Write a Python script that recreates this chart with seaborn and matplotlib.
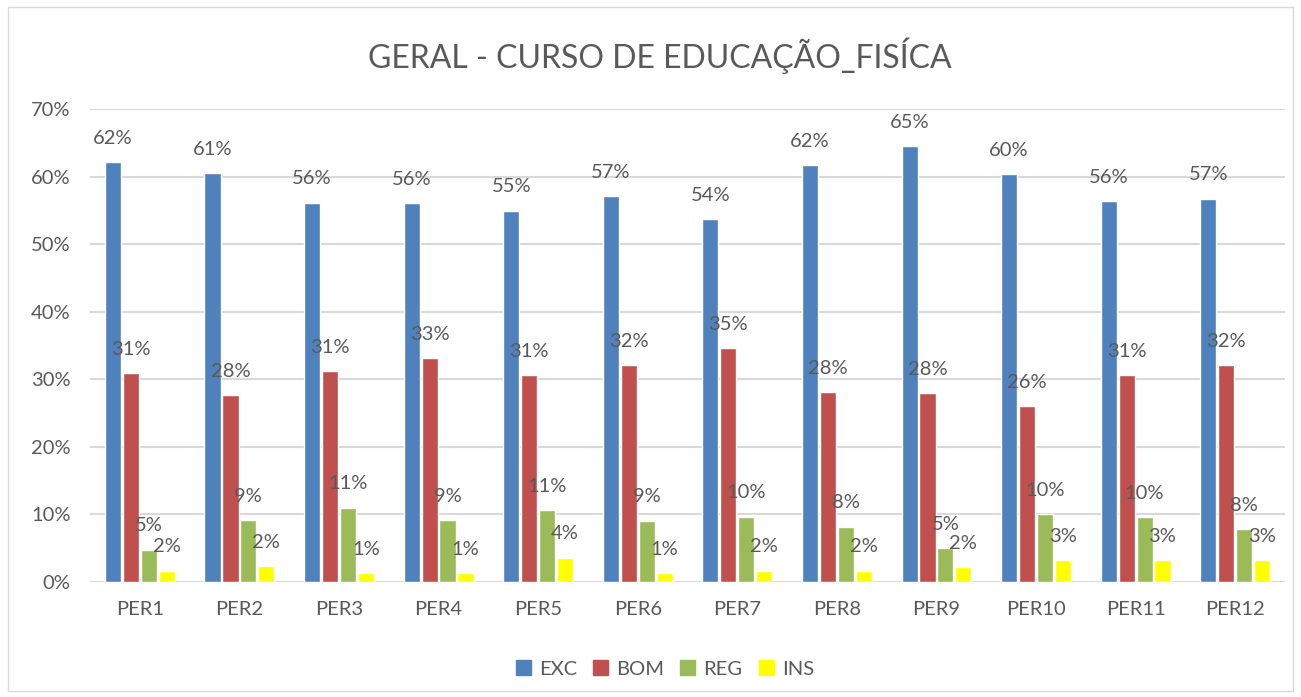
import pandas as pd
import matplotlib.pyplot as plt
import seaborn as sns
from matplotlib.patches import Rectangle

# values (fractions)
periods = ["PER1", "PER2", "PER3", "PER4", "PER5", "PER6",
           "PER7", "PER8", "PER9", "PER10", "PER11", "PER12"]
exc = [0.622, 0.606, 0.562, 0.561, 0.550, 0.572, 0.537, 0.617, 0.646, 0.604, 0.564, 0.568]
bom = [0.309, 0.277, 0.312, 0.332, 0.306, 0.321, 0.346, 0.281, 0.280, 0.261, 0.306, 0.321]
reg = [0.048, 0.092, 0.110, 0.092, 0.106, 0.091, 0.097, 0.082, 0.050, 0.101, 0.096, 0.078]
ins = [0.017, 0.023, 0.013, 0.013, 0.036, 0.013, 0.017, 0.017, 0.022, 0.032, 0.032, 0.032]
series = ["EXC", "BOM", "REG", "INS"]
colors = ["#4F81BD", "#C0504D", "#9BBB59", "#FFFF00"]
title = "GERAL - CURSO DE EDUCAÇÃO_FISÍCA"

df = pd.DataFrame({"periodo": periods, "EXC": exc, "BOM": bom, "REG": reg, "INS": ins})
long_df = df.melt(id_vars="periodo", var_name="serie", value_name="valor")

sns.set_style("white")
plt.rcParams["font.family"] = ["Lato", "DejaVu Sans"]
text_color = "#595959"

fig = plt.figure(figsize=(13.01, 6.97), dpi=100)
ax = fig.add_axes([0.0692, 0.165, 0.9185, 0.678])

sns.barplot(data=long_df, x="periodo", y="valor", hue="serie",
            palette=colors, width=0.72, gap=0.1, saturation=1,
            legend=False, ax=ax)

for cont in ax.containers:
    labels = [f"{b.get_height():.0%}" for b in cont]
    ax.bar_label(cont, labels=labels, padding=11, fontsize=14.5, color=text_color)

ax.set_ylim(0, 0.7)
ax.set_yticks([i / 10 for i in range(8)])
ax.set_yticklabels([f"{i * 10}%" for i in range(8)])
ax.yaxis.grid(True, color="#D9D9D9", linewidth=1.5)
ax.set_axisbelow(True)
for s in ax.spines.values():
    s.set_visible(False)
ax.tick_params(axis="both", length=0, labelsize=14.5, labelcolor=text_color)
ax.tick_params(axis="y", pad=14)
ax.tick_params(axis="x", pad=14)
ax.set_xlabel("")
ax.set_ylabel("")

fig.text(0.507, 0.92, title, ha="center", va="center", fontsize=23, color=text_color)

handles = [Rectangle((0, 0), 1, 1, color=c) for c in colors]
fig.legend(handles, series, loc="center", bbox_to_anchor=(0.511, 0.04), ncol=4,
           frameon=False, fontsize=14.5, handlelength=0.75, handleheight=0.75,
           handletextpad=0.4, columnspacing=0.8, labelcolor=text_color)

fig.patches.append(Rectangle((0.006, 0.008), 0.988, 0.982, transform=fig.transFigure,
                             fill=False, edgecolor="#D9D9D9", linewidth=1))

plt.savefig("out.png", dpi=100)
